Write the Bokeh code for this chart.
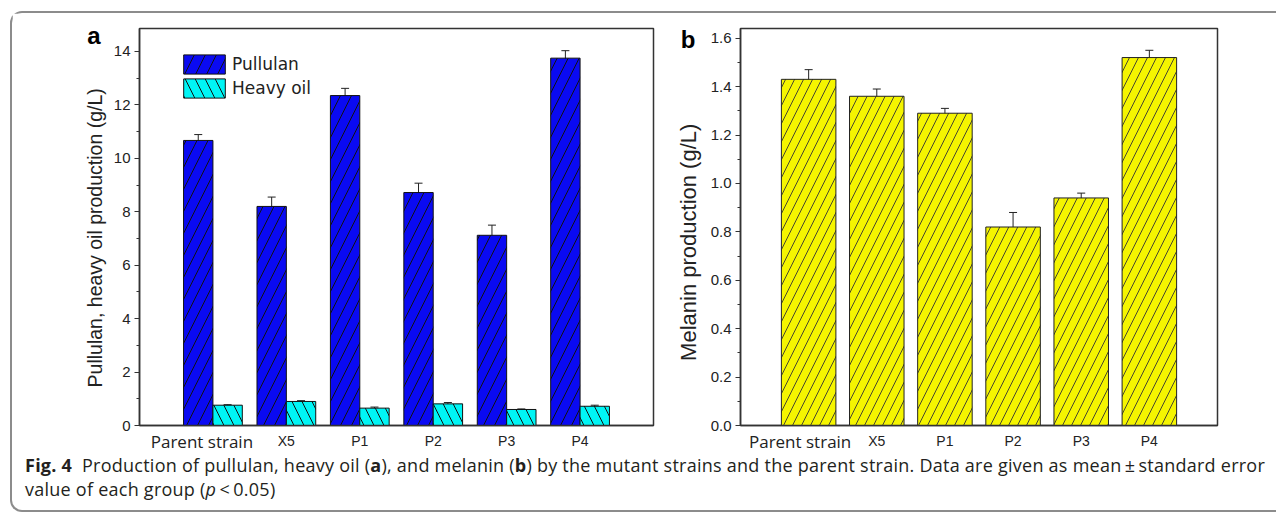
from bokeh.plotting import figure
from bokeh.models import (ColumnDataSource, Whisker, TeeHead, Legend, LegendItem, LinearAxis,
                          FixedTicker, SingleIntervalTicker, PrintfTickFormatter, Range1d, Div)
from bokeh.layouts import row, column
from bokeh.embed import file_html
from bokeh.resources import INLINE

# ---------------- data ----------------
strains = ["Parent strain", "X5", "P1", "P2", "P3", "P4"]
pullulan = [10.67, 8.20, 12.35, 8.72, 7.12, 13.75]
pullulan_err = [0.22, 0.35, 0.27, 0.35, 0.38, 0.28]
heavy_oil = [0.76, 0.90, 0.65, 0.81, 0.60, 0.72]
heavy_oil_err = [0.02, 0.03, 0.04, 0.05, 0.02, 0.04]
melanin = [1.43, 1.36, 1.29, 0.82, 0.94, 1.52]
melanin_err = [0.04, 0.03, 0.02, 0.06, 0.02, 0.03]

pos = list(range(1, len(strains) + 1))
AX = "#333333"
TXT = "#222222"
TICK_FONT = "Liberation Sans"
NBSP = "\u00a0"


def style_axes(p, interval, fmt, parent_tick):
    p.xgrid.visible = False
    p.ygrid.visible = False
    p.outline_line_color = AX
    p.outline_line_width = 1.5
    p.background_fill_color = "white"
    p.border_fill_color = "white"
    # nearest bottom axis: "Parent strain" (different font)
    xa = p.xaxis[0]
    xa.ticker = FixedTicker(ticks=[parent_tick], minor_ticks=[])
    xa.major_label_overrides = {parent_tick: strains[0]}
    xa.major_tick_line_color = None
    xa.minor_tick_line_color = None
    xa.major_tick_out = 0
    xa.major_tick_in = 0
    xa.minor_tick_out = 0
    xa.minor_tick_in = 0
    xa.axis_line_color = AX
    xa.axis_line_width = 1.5
    xa.major_label_standoff = 4
    xa.major_label_text_font = "Open Sans"
    xa.major_label_text_font_size = "17px"
    xa.major_label_text_color = TXT
    # outer bottom axis for the other strains, pulled up with a negative standoff
    xb = LinearAxis(ticker=FixedTicker(ticks=pos[1:], minor_ticks=[]),
                    major_label_overrides={i: s for i, s in zip(pos[1:], strains[1:])},
                    axis_line_color=None, major_tick_line_color=None, minor_tick_line_color=None,
                    major_tick_out=0, major_tick_in=0, minor_tick_out=0, minor_tick_in=0,
                    major_label_standoff=-23, major_label_text_font=TICK_FONT,
                    major_label_text_font_size="14px", major_label_text_color=TXT)
    p.add_layout(xb, "below")
    ya = p.yaxis[0]
    ya.ticker = SingleIntervalTicker(interval=interval, num_minor_ticks=2)
    if fmt:
        ya.formatter = PrintfTickFormatter(format=fmt)
    ya.axis_line_color = AX
    ya.axis_line_width = 1.5
    ya.major_tick_line_color = AX
    ya.minor_tick_line_color = AX
    ya.major_tick_out = 5
    ya.major_tick_in = 0
    ya.minor_tick_out = 3
    ya.minor_tick_in = 0
    ya.major_label_standoff = 4
    ya.major_label_text_font = TICK_FONT
    ya.major_label_text_font_size = "15px"
    ya.major_label_text_color = TXT


def add_side_texts(p, letter, letter_y, ylabel, letter_standoff, label_standoff, label_size, pad):
    # outer left axis carrying the panel letter and the y-axis title
    ax = LinearAxis(ticker=FixedTicker(ticks=[letter_y], minor_ticks=[]),
                    major_label_overrides={letter_y: letter},
                    axis_line_color=None, major_tick_line_color=None, minor_tick_line_color=None,
                    major_tick_out=0, major_tick_in=0, minor_tick_out=0, minor_tick_in=0,
                    major_label_standoff=letter_standoff, major_label_text_font=TICK_FONT,
                    major_label_text_font_size="24px", major_label_text_font_style="bold",
                    major_label_text_color="black",
                    axis_label=ylabel + NBSP * pad, axis_label_standoff=label_standoff,
                    axis_label_text_font=TICK_FONT, axis_label_text_font_size=label_size,
                    axis_label_text_font_style="normal", axis_label_text_color=TXT)
    p.add_layout(ax, "left")


def add_whisker(p, src, base, lo, hi):
    w = Whisker(source=src, base=base, lower=lo, upper=hi, line_color="#222222", line_width=1,
                upper_head=TeeHead(size=8, line_color="#222222", line_width=1),
                lower_head=TeeHead(size=8, line_color="#222222", line_width=1))
    p.add_layout(w)


# ---------------- panel a ----------------
ymax_a = 14.86
src_a = ColumnDataSource(dict(
    xp=[x - 0.2 for x in pos], xo=[x + 0.2 for x in pos],
    pul=pullulan, oil=heavy_oil,
    pul_lo=[v - e for v, e in zip(pullulan, pullulan_err)],
    pul_hi=[v + e for v, e in zip(pullulan, pullulan_err)],
    oil_lo=[v - e for v, e in zip(heavy_oil, heavy_oil_err)],
    oil_hi=[v + e for v, e in zip(heavy_oil, heavy_oil_err)],
))

pa = figure(width=648, height=443, x_range=Range1d(0, 7), y_range=Range1d(0, ymax_a),
            output_backend="svg", toolbar_location=None,
            min_border_left=127, min_border_right=7, min_border_top=15, min_border_bottom=31)
style_axes(pa, 2, None, 0.85)

r_pul = pa.vbar(x="xp", top="pul", width=0.4, source=src_a, fill_color="#0a0af2",
                line_color="#111111", line_width=1, hatch_pattern="/", hatch_color="#111111",
                hatch_scale=22, hatch_weight=1)
r_oil = pa.vbar(x="xo", top="oil", width=0.4, source=src_a, fill_color="#00f5f5",
                line_color="#111111", line_width=1, hatch_pattern="\\", hatch_color="#111111",
                hatch_scale=20, hatch_weight=1)
add_whisker(pa, src_a, "xp", "pul_lo", "pul_hi")
add_whisker(pa, src_a, "xo", "oil_lo", "oil_hi")

legend = Legend(items=[LegendItem(label="Pullulan", renderers=[r_pul]),
                       LegendItem(label="Heavy oil", renderers=[r_oil])],
                location=(39, 325), orientation="vertical",
                glyph_width=52, glyph_height=24, label_height=24, spacing=0,
                padding=0, margin=0, label_standoff=2,
                border_line_color=None, background_fill_alpha=0,
                label_text_font="DejaVu Sans", label_text_font_size="17px", label_text_color=TXT)
pa.add_layout(legend)
add_side_texts(pa, "a", 14.61, "Pullulan, heavy oil production (g/L)", 10, -22, "19.5px", 4)

# ---------------- panel b ----------------
ymax_b = 1.64
src_b = ColumnDataSource(dict(
    x=pos, mel=melanin,
    lo=[v - e for v, e in zip(melanin, melanin_err)],
    hi=[v + e for v, e in zip(melanin, melanin_err)],
))
pb = figure(width=612, height=443, x_range=Range1d(0, 7), y_range=Range1d(0, ymax_b),
            output_backend="svg", toolbar_location=None,
            min_border_left=80, min_border_right=55, min_border_top=15, min_border_bottom=31)
style_axes(pb, 0.2, "%.1f", 0.875)
pb.vbar(x="x", top="mel", width=0.8, source=src_b, fill_color="#f5f500",
        line_color="#222222", line_width=1, hatch_pattern="/", hatch_color="#333333",
        hatch_scale=18, hatch_weight=0.9)
add_whisker(pb, src_b, "x", "lo", "hi")
add_side_texts(pb, "b", 1.595, "Melanin production (g/L)", 12, -23, "22px", 5)

# ---------------- caption ----------------
caption_html = (
    "<div style=\"font-family:'Open Sans'; font-size:18px; letter-spacing:0.25px; "
    "line-height:24px; margin-top:-3px; color:#231f20; padding-left:13px; white-space:nowrap;\">"
    "<b>Fig. 4</b>&nbsp; Production of pullulan, heavy oil (<b>a</b>), and melanin (<b>b</b>) "
    "by the mutant strains and the parent strain. Data are given as mean\u2009\u00b1\u2009standard error"
    "<br>value of each group (<i>p</i>\u2009&lt;\u20090.05)</div>"
)
cap = Div(text=caption_html, width=1264, height=54, margin=0)

root = column(row(pa, pb), cap, margin=(11, 0, 0, 10),
              styles={"border-left": "2px solid #8c8c8c", "border-top": "2px solid #8c8c8c",
                      "border-bottom": "2px solid #8c8c8c", "border-top-left-radius": "12px",
                      "border-bottom-left-radius": "12px"})

open("out.html", "w").write(file_html(root, INLINE))
